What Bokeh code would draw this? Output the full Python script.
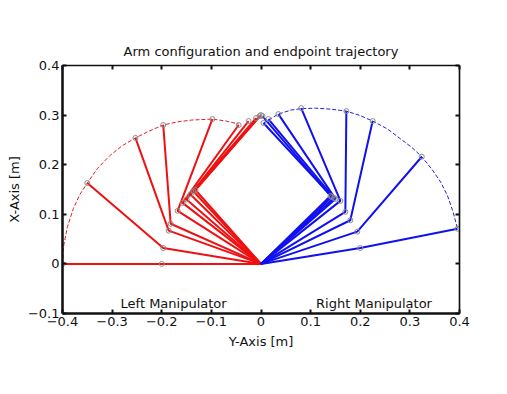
from bokeh.plotting import figure
from bokeh.models import Range1d, LinearAxis, Label, FixedTicker, CustomJSTickFormatter
from bokeh.embed import file_html
from bokeh.resources import INLINE

# ---- data ----
x_ticks = [-0.4, -0.3, -0.2, -0.1, 0.0, 0.1, 0.2, 0.3, 0.4]
y_ticks = [-0.1, 0.0, 0.1, 0.2, 0.3, 0.4]

# left manipulator (red): elbow and endpoint positions
left_elbow_x = [-0.200, -0.197, -0.186, -0.182, -0.168, -0.158, -0.150, -0.142, -0.136, -0.132]
left_elbow_y = [0.000, 0.032, 0.067, 0.081, 0.107, 0.123, 0.130, 0.140, 0.146, 0.149]
left_end_x = [-0.400, -0.350, -0.253, -0.197, -0.098, -0.045, -0.025, -0.010, -0.003, 0.000]
left_end_y = [0.000, 0.163, 0.254, 0.280, 0.292, 0.280, 0.288, 0.294, 0.298, 0.300]
left_traj_x = [-0.400, -0.398, -0.390, -0.378, -0.365, -0.350, -0.330, -0.305, -0.280,
               -0.253, -0.225, -0.197, -0.170, -0.140, -0.098, -0.070, -0.045]
left_traj_y = [0.000, 0.035, 0.075, 0.112, 0.140, 0.163, 0.192, 0.218, 0.238,
               0.254, 0.268, 0.280, 0.286, 0.290, 0.292, 0.288, 0.282]

# right manipulator (blue)
right_elbow_x = [0.140, 0.143, 0.147, 0.150, 0.160, 0.170, 0.180, 0.194, 0.200]
right_elbow_y = [0.137, 0.135, 0.133, 0.131, 0.127, 0.105, 0.088, 0.065, 0.032]
right_end_x = [0.003, 0.005, 0.015, 0.035, 0.081, 0.172, 0.225, 0.324, 0.396]
right_end_y = [0.298, 0.284, 0.292, 0.302, 0.314, 0.308, 0.288, 0.216, 0.071]
right_traj_x = [0.005, 0.035, 0.060, 0.081, 0.110, 0.140, 0.172, 0.200, 0.225, 0.255,
                0.280, 0.305, 0.324, 0.345, 0.362, 0.376, 0.387, 0.396]
right_traj_y = [0.284, 0.302, 0.310, 0.313, 0.314, 0.312, 0.308, 0.299, 0.288, 0.272,
                0.253, 0.234, 0.216, 0.190, 0.165, 0.137, 0.105, 0.071]

FONT = "DejaVu Sans"
FS = "13px"

p = figure(width=500, height=390, output_backend="svg", toolbar_location=None,
           x_range=Range1d(-0.4, 0.4), y_range=Range1d(-0.1, 0.4),
           title="Arm configuration and endpoint trajectory",
           min_border_left=62, min_border_right=41, min_border_top=65, min_border_bottom=77,
           x_axis_label="Y-Axis [m]", y_axis_label="X-Axis [m]")
p.grid.visible = False
p.outline_line_color = "black"
p.outline_line_width = 1.2
p.background_fill_color = "white"
p.border_fill_color = "white"

p.title.align = "center"
p.title.text_font = FONT
p.title.text_font_size = FS
p.title.text_font_style = "normal"
p.title.text_color = "#111111"
p.title.standoff = 13

fmt = CustomJSTickFormatter(code="""
if (Math.abs(tick) < 1e-9) return '0';
return (tick < 0 ? '\\u2212' : '') + Math.abs(tick).toFixed(1);
""")
blank = CustomJSTickFormatter(code="return '';")

def style(ax, ticks, labels=True):
    ax.ticker = FixedTicker(ticks=ticks)
    ax.formatter = fmt if labels else blank
    ax.major_tick_in = 4
    ax.major_tick_out = 0
    ax.minor_tick_in = 0
    ax.minor_tick_out = 0
    ax.axis_line_color = "#111111"
    ax.major_tick_line_color = "#111111"
    ax.major_tick_line_width = 2
    ax.major_label_text_font = FONT
    ax.major_label_text_font_size = FS
    ax.major_label_text_color = "#111111"
    ax.major_label_standoff = 3
    ax.axis_label_text_font = FONT
    ax.axis_label_text_font_size = FS
    ax.axis_label_text_font_style = "normal"
    ax.axis_label_text_color = "#111111"

style(p.xaxis[0], x_ticks)
style(p.yaxis[0], y_ticks)
p.xaxis[0].axis_line_width = 2.5
p.yaxis[0].axis_line_width = 2.5
p.xaxis[0].axis_label_standoff = 5
p.yaxis[0].axis_label_standoff = 3

top = LinearAxis()
style(top, x_ticks, labels=False)
top.axis_line_width = 1.5
p.add_layout(top, "above")
right = LinearAxis()
style(right, y_ticks, labels=False)
right.axis_line_width = 1.5
p.add_layout(right, "right")

# trajectories
p.line(left_traj_x, left_traj_y, line_color="#e02020", line_width=1, line_dash="4 2")
p.line(right_traj_x, right_traj_y, line_color="#2020e0", line_width=1, line_dash="4 2")

# arms
lxs = [[0.0, ex, wx] for ex, wx in zip(left_elbow_x, left_end_x)]
lys = [[0.0, ey, wy] for ey, wy in zip(left_elbow_y, left_end_y)]
rxs = [[0.0, ex, wx] for ex, wx in zip(right_elbow_x, right_end_x)]
rys = [[0.0, ey, wy] for ey, wy in zip(right_elbow_y, right_end_y)]
p.multi_line(lxs, lys, line_color="#f01010", line_width=2)
p.multi_line(rxs, rys, line_color="#1010f0", line_width=2)

# joint markers
p.scatter(left_elbow_x + left_end_x, left_elbow_y + left_end_y, size=5,
          fill_color=None, line_color="#8a8a8a", line_width=1)
p.scatter(right_elbow_x + right_end_x, right_elbow_y + right_end_y, size=5,
          fill_color=None, line_color="#8a8a8a", line_width=1)

p.add_layout(Label(x=-0.283, y=-0.094, text="Left Manipulator", text_font=FONT,
                   text_font_size=FS, text_color="#111111"))
p.add_layout(Label(x=0.111, y=-0.094, text="Right Manipulator", text_font=FONT,
                   text_font_size=FS, text_color="#111111"))

open("out.html", "w").write(file_html(p, INLINE))
